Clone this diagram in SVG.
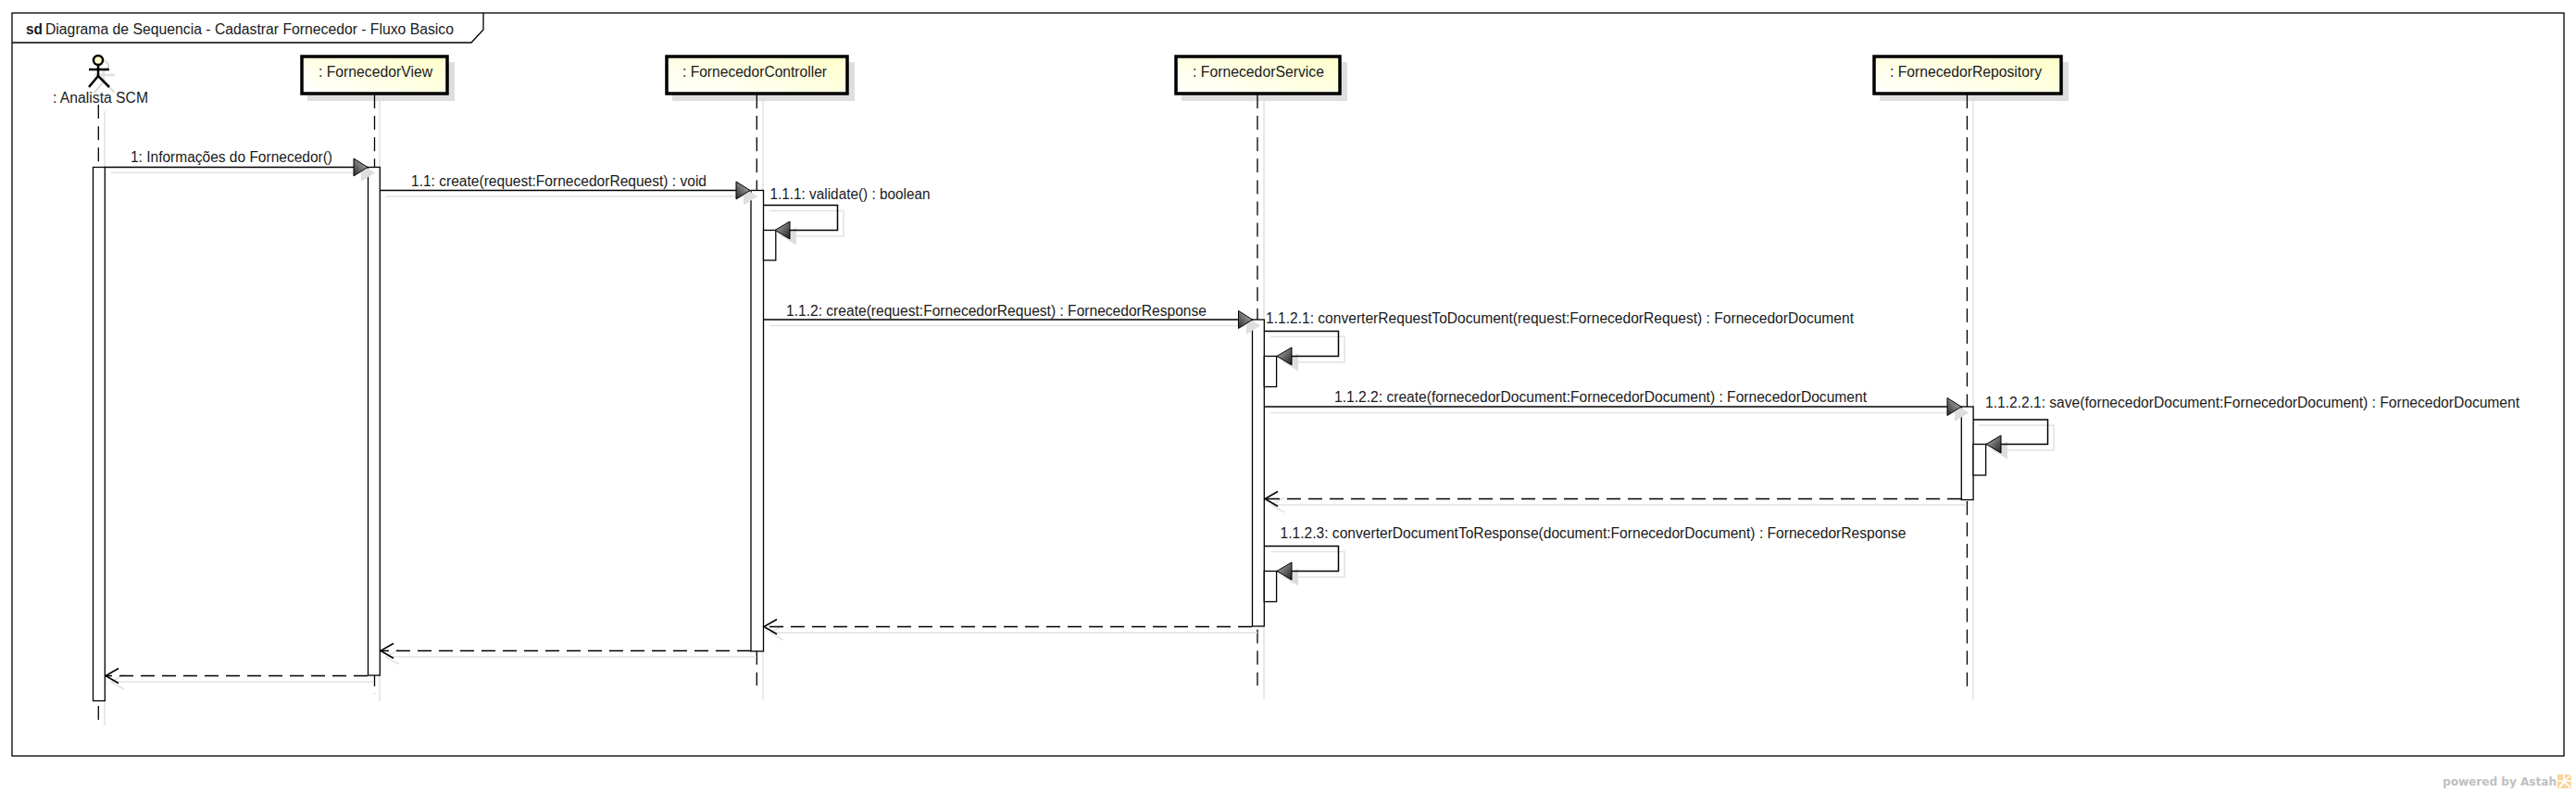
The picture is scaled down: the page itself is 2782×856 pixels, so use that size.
<svg xmlns="http://www.w3.org/2000/svg" width="2782" height="856" viewBox="0 0 2782 856">
<style>
text{font-family:"Liberation Sans",Arial,sans-serif;font-size:16px;fill:#1a1a1a}
.box{fill:url(#note);stroke:#000;stroke-width:3.5}
.sh{fill:#dedede;stroke:none}
.lsh{fill:none;stroke:#e2e2e2;stroke-width:1.5}
.life{fill:none;stroke:#000;stroke-width:1.3;stroke-dasharray:15 8.1}
.bar{fill:#fff;stroke:#000;stroke-width:1.3}
.msg{fill:none;stroke:#000;stroke-width:1.5}
.ret{fill:none;stroke:#000;stroke-width:1.5;stroke-dasharray:15 8}
.fr{marker-end:url(#fr)}.fl{marker-end:url(#fl)}.ol{marker-end:url(#ol)}
.sfr{marker-end:url(#sfr)}.sfl{marker-end:url(#sfl)}.sol{marker-end:url(#sol)}
</style>
<defs>
<linearGradient id="note" x1="0" y1="1" x2="1" y2="0"><stop offset="0" stop-color="#fff"/><stop offset="1" stop-color="#ffffc8"/></linearGradient>
<linearGradient id="hr" x1="0" y1="1" x2="1" y2="0"><stop offset="0" stop-color="#2a2a2a"/><stop offset="1" stop-color="#c4c4c4"/></linearGradient>
<linearGradient id="hl" x1="0" y1="0" x2="1" y2="1"><stop offset="0" stop-color="#bbb"/><stop offset="1" stop-color="#1e1e1e"/></linearGradient>
<marker id="fr" markerUnits="userSpaceOnUse" markerWidth="18" markerHeight="22" refX="16" refY="10.5" orient="0" overflow="visible"><path d="M1 1L16 10.5L1 20Z" fill="url(#hr)" stroke="#000" stroke-width="1"/></marker>
<marker id="fl" markerUnits="userSpaceOnUse" markerWidth="18" markerHeight="22" refX="1" refY="10.5" orient="0" overflow="visible"><path d="M17 1L1 10.5L17 20Z" fill="url(#hl)" stroke="#000" stroke-width="1"/></marker>
<marker id="ol" markerUnits="userSpaceOnUse" markerWidth="18" markerHeight="20" refX="1" refY="9" orient="0" overflow="visible"><path d="M15 1L1 9L15 17" fill="none" stroke="#000" stroke-width="1.5"/></marker>
<marker id="sfr" markerUnits="userSpaceOnUse" markerWidth="18" markerHeight="22" refX="16" refY="10.5" orient="0" overflow="visible"><path d="M1 1L16 10.5L1 20Z" fill="#dedede"/></marker>
<marker id="sfl" markerUnits="userSpaceOnUse" markerWidth="18" markerHeight="22" refX="1" refY="10.5" orient="0" overflow="visible"><path d="M17 1L1 10.5L17 20Z" fill="#dedede"/></marker>
<marker id="sol" markerUnits="userSpaceOnUse" markerWidth="18" markerHeight="20" refX="1" refY="9" orient="0" overflow="visible"><path d="M15 1L1 9L15 17" fill="none" stroke="#e2e2e2" stroke-width="1.5"/></marker>
</defs>
<rect width="2782" height="856" fill="#fff"/>
<g id="frame">
<rect x="13" y="14" width="2756" height="802" fill="#fff" stroke="#000" stroke-width="1.3"/>
<path d="M13 46H509L522 32V14" fill="none" stroke="#000" stroke-width="1.3"/>
<text x="28" y="37" style="font-weight:bold" textLength="18" lengthAdjust="spacingAndGlyphs">sd</text>
<text x="49" y="37" textLength="441" lengthAdjust="spacingAndGlyphs">Diagrama de Sequencia - Cadastrar Fornecedor - Fluxo Basico</text>
</g>
<g id="shadows">
<path class="lsh" d="M113 120V783M410 108V757M824 108V755M1365 108V755M2131 108V755"/>
</g>
<g id="actor">
<g fill="none" stroke="#e0e0e0" stroke-width="2.5"><circle cx="112" cy="71" r="5"/><path d="M112 76V88M102 81H124M112 88L102 100M112 88L124 100"/></g>
<circle cx="106" cy="65" r="5" fill="#ffffc8" stroke="#000" stroke-width="2.5"/>
<path d="M106 70V82M96 75H118M106 82L96 94M106 82L118 94" fill="none" stroke="#000" stroke-width="2.5"/>
<text x="57" y="111" textLength="103" lengthAdjust="spacingAndGlyphs">: Analista SCM</text>
<path class="life" style="stroke-dasharray:15 8.18" d="M106.3 113V777"/>
</g>
<g id="view">
<rect class="sh" x="332" y="67" width="159" height="42"/>
<rect class="box" x="326" y="61" width="157" height="40"/>
<text x="344" y="83" textLength="123" lengthAdjust="spacingAndGlyphs">: FornecedorView</text>
<path class="life" d="M404.5 102V749"/>
</g>
<g id="controller">
<rect class="sh" x="726" y="67" width="197" height="42"/>
<rect class="box" x="720" y="61" width="195" height="40"/>
<text x="737" y="83" textLength="156" lengthAdjust="spacingAndGlyphs">: FornecedorController</text>
<path class="life" d="M817.3 102V740"/>
</g>
<g id="service">
<rect class="sh" x="1276" y="67" width="179" height="42"/>
<rect class="box" x="1270" y="61" width="177" height="40"/>
<text x="1288" y="83" textLength="142" lengthAdjust="spacingAndGlyphs">: FornecedorService</text>
<path class="life" d="M1358 102V740"/>
</g>
<g id="repository">
<rect class="sh" x="2030" y="67" width="204" height="42"/>
<rect class="box" x="2024" y="61" width="202" height="40"/>
<text x="2041" y="83" textLength="164" lengthAdjust="spacingAndGlyphs">: FornecedorRepository</text>
<path class="life" d="M2124.4 102V748"/>
</g>
<g id="activations">
<rect class="bar" x="100.5" y="180.5" width="12.8" height="576"/>
<rect class="bar" x="397.5" y="180.5" width="12.8" height="548.5"/>
<rect class="bar" x="811" y="205.5" width="13.5" height="497.5"/>
<rect class="bar" x="1352.5" y="345" width="12.8" height="331"/>
<rect class="bar" x="2118.3" y="439" width="12.8" height="100.5"/>
<rect class="bar" x="824.5" y="248.5" width="13.3" height="32.5"/>
<rect class="bar" x="1365.3" y="384.5" width="13.3" height="33"/>
<rect class="bar" x="2131" y="479.5" width="13.6" height="33.5"/>
<rect class="bar" x="1365.3" y="616.5" width="13.3" height="33"/>
</g>
<g id="connectors">
<g class="lsh">
<path class="sfr" d="M120 186.5H405"/>
<path class="sfr" d="M417 212H818"/>
<path class="sfl" d="M831 227.5H911V255H844"/>
<path class="sfr" d="M831 351.5H1361"/>
<path class="sfl" d="M1372 363.5H1452V391H1386"/>
<path class="sfr" d="M1372 445.5H2126"/>
<path class="sfl" d="M2137 459H2218V486H2152"/>
<path class="sol" d="M2124 545H1373"/>
<path class="sfl" d="M1372 595.5H1452V623H1386"/>
<path class="sol" d="M1358 683H832"/>
<path class="sol" d="M817 709H417"/>
<path class="sol" d="M404 736H120"/>
</g>
<path class="msg fr" d="M113 180.5H397"/>
<path class="msg fr" d="M410 205.5H810"/>
<path class="msg fl" d="M824.5 221.5H904.5V248.5H837"/>
<path class="msg fr" d="M824.5 345H1352.5"/>
<path class="msg fl" d="M1365.3 357.5H1445.5V384.5H1379"/>
<path class="msg fr" d="M1365.3 439H2118"/>
<path class="msg fl" d="M2131 453H2211.5V479.5H2145"/>
<path class="ret ol" d="M2118 538.5H1366"/>
<path class="msg fl" d="M1365.3 589.5H1445.5V616.5H1379"/>
<path class="ret ol" d="M1352 676.5H825"/>
<path class="ret ol" d="M811 702.5H411"/>
<path class="ret ol" d="M397 729.5H114"/>
<text x="141" y="175" textLength="218" lengthAdjust="spacingAndGlyphs">1: Informações do Fornecedor()</text>
<text x="444" y="201" textLength="319" lengthAdjust="spacingAndGlyphs">1.1: create(request:FornecedorRequest) : void</text>
<text x="831.5" y="215" textLength="173" lengthAdjust="spacingAndGlyphs">1.1.1: validate() : boolean</text>
<text x="849" y="341" textLength="454" lengthAdjust="spacingAndGlyphs">1.1.2: create(request:FornecedorRequest) : FornecedorResponse</text>
<text x="1367" y="349" textLength="635" lengthAdjust="spacingAndGlyphs">1.1.2.1: converterRequestToDocument(request:FornecedorRequest) : FornecedorDocument</text>
<text x="1441" y="434" textLength="575" lengthAdjust="spacingAndGlyphs">1.1.2.2: create(fornecedorDocument:FornecedorDocument) : FornecedorDocument</text>
<text x="2144" y="440" textLength="577" lengthAdjust="spacingAndGlyphs">1.1.2.2.1: save(fornecedorDocument:FornecedorDocument) : FornecedorDocument</text>
<text x="1382.5" y="581" textLength="676" lengthAdjust="spacingAndGlyphs">1.1.2.3: converterDocumentToResponse(document:FornecedorDocument) : FornecedorResponse</text>
</g>
<g id="watermark">
<text x="2638" y="848" style="font-family:'DejaVu Sans',sans-serif;font-size:12px;font-weight:bold;fill:#c0c0c0" textLength="123" lengthAdjust="spacingAndGlyphs">powered by Astah</text>
<rect x="2762" y="836" width="15" height="15" fill="#f9d49a"/>
<path d="M2769 836V843M2762 843H2777M2769 843L2777 836" stroke="#fff" stroke-width="1.5" fill="none"/>
<path d="M2764 850L2769 844L2776 850" stroke="#fff" stroke-width="2" fill="none"/>
</g>
</svg>
